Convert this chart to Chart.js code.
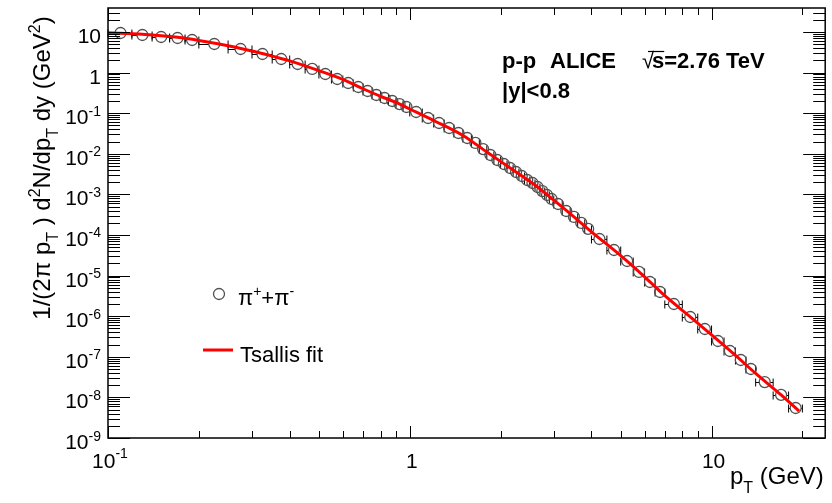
<!DOCTYPE html>
<html>
<head>
<meta charset="utf-8">
<script src="https://cdn.jsdelivr.net/npm/chart.js@4.4.0/dist/chart.umd.min.js"></script>
<style>
  html, body { margin: 0; padding: 0; background: #fff; }
</style>
</head>
<body>
<canvas id="myChart" width="832" height="503"></canvas>
<script>
// pi+ + pi- spectrum, p-p ALICE at 2.76 TeV, |y|<0.8
const ptEdges = [0.1, 0.12, 0.14, 0.16, 0.18, 0.2, 0.25, 0.3, 0.35, 0.4, 0.45, 0.5, 0.55, 0.6, 0.65, 0.7,
  0.75, 0.8, 0.85, 0.9, 0.95, 1.0, 1.1, 1.2, 1.3, 1.4, 1.5, 1.6, 1.7, 1.8, 1.9, 2.0, 2.1, 2.2, 2.3, 2.4,
  2.5, 2.6, 2.7, 2.8, 2.9, 3.0, 3.2, 3.4, 3.6, 3.8, 4.0, 4.5, 5.0, 5.5, 6.0, 6.5, 7.0, 8, 9, 10, 11, 12,
  13, 14, 16, 18, 20];
const ptCenter = [0.11, 0.13, 0.15, 0.17, 0.19, 0.225, 0.275, 0.325, 0.375, 0.425, 0.475, 0.525, 0.575,
  0.625, 0.675, 0.725, 0.775, 0.825, 0.875, 0.925, 0.975, 1.05, 1.15, 1.25, 1.35, 1.45, 1.55, 1.65, 1.75,
  1.85, 1.95, 2.05, 2.15, 2.25, 2.35, 2.45, 2.55, 2.65, 2.75, 2.85, 2.95, 3.1, 3.3, 3.5, 3.7, 3.9, 4.25,
  4.75, 5.25, 5.75, 6.25, 6.75, 7.5, 8.5, 9.5, 10.5, 11.5, 12.5, 13.5, 15, 17, 19];
const pionYield = [9.45, 8.44, 7.53, 7.12, 6.35, 5.06, 3.81, 2.87, 2.16, 1.63, 1.23, 0.924, 0.696, 0.554,
  0.442, 0.352, 0.281, 0.237, 0.200, 0.168, 0.142, 0.107, 0.0762, 0.0574, 0.0432, 0.0325, 0.0245, 0.0185,
  0.0131, 0.00934, 0.00704, 0.00561, 0.00447, 0.00356, 0.00284, 0.00226, 0.00191, 0.00152, 0.00121,
  0.000966, 0.000770, 0.000580, 0.000390, 0.000278, 0.000198, 0.000141, 7.97e-5, 4.27e-5, 2.29e-5,
  1.23e-5, 6.96e-6, 3.95e-6, 2.00e-6, 9.55e-7, 4.84e-7, 2.45e-7, 1.39e-7, 8.34e-8, 5.01e-8, 2.39e-8,
  1.15e-8, 5.48e-9];

// Tsallis fit curve
const fitPt = [0.1, 0.13, 0.17, 0.2, 0.25, 0.3, 0.35, 0.4, 0.5, 0.6, 0.7, 0.8, 0.9, 1.0, 1.2, 1.5, 1.8,
  2.2, 2.6, 3.0, 3.5, 4.0, 5.0, 6.0, 7.0, 8.5, 10, 12, 14, 17, 19.5];
const fitVal = [9.6, 8.8, 7.4, 6.2, 4.6, 3.4, 2.55, 1.95, 1.12, 0.68, 0.40, 0.26, 0.185, 0.127, 0.066,
  0.0283, 0.0111, 0.0040, 0.0017, 0.00072, 0.00028, 0.00012, 3.1e-5, 9.3e-6, 3.2e-6, 9.6e-7, 3.45e-7,
  1.08e-7, 3.9e-8, 1.15e-8, 4.6e-9];

// tick labels (decade exponents)
const xDecades = [-1, 0, 1];
const yDecades = [-9, -8, -7, -6, -5, -4, -3, -2, -1, 0, 1];

const FONT = "'Liberation Sans', Arial, sans-serif";
const markerR = 5.5;

// draw text made of pieces: [text, size, dy, weight]
function richWidth(ctx, parts) {
  let w = 0;
  parts.forEach(p => {
    ctx.font = (p[3] || "normal") + " " + p[1] + "px " + FONT;
    w += ctx.measureText(p[0]).width;
  });
  return w;
}
function drawRich(ctx, parts, x, y, align) {
  const w = richWidth(ctx, parts);
  let cx = x;
  if (align === "center") cx = x - w / 2;
  if (align === "right") cx = x - w;
  ctx.textAlign = "left";
  ctx.textBaseline = "alphabetic";
  parts.forEach(p => {
    ctx.font = (p[3] || "normal") + " " + p[1] + "px " + FONT;
    ctx.fillText(p[0], cx, y + p[2]);
    cx += ctx.measureText(p[0]).width;
  });
}

function seg(ctx, x1, y1, x2, y2) {
  ctx.beginPath();
  ctx.moveTo(x1, y1);
  ctx.lineTo(x2, y2);
  ctx.stroke();
}

const rootStyle = {
  id: "rootStyle",
  beforeDatasetsDraw(chart) {
    const { ctx, scales: { x, y } } = chart;
    // horizontal (bin width) error bars
    ctx.save();
    ctx.strokeStyle = "#000";
    ctx.lineWidth = 1;
    for (let i = 0; i < ptCenter.length; i++) {
      const px = x.getPixelForValue(ptCenter[i]);
      const py = Math.round(y.getPixelForValue(pionYield[i])) + 0.5;
      const xl = x.getPixelForValue(ptEdges[i]);
      const xr = x.getPixelForValue(ptEdges[i + 1]);
      if (px - xl > markerR) seg(ctx, xl, py, px - markerR, py);
      if (xr - px > markerR) seg(ctx, px + markerR, py, xr, py);
      seg(ctx, xl, py - 4, xl, py + 4);
      seg(ctx, xr, py - 4, xr, py + 4);
    }
    ctx.restore();
  },
  afterDraw(chart) {
    const { ctx, chartArea: a, scales: { x, y } } = chart;
    ctx.save();
    ctx.strokeStyle = "#000";
    ctx.fillStyle = "#000";
    ctx.lineWidth = 1;

    // y ticks, left and right
    yDecades.forEach(d => {
      for (let k = 1; k <= 9; k++) {
        const v = k * Math.pow(10, d);
        if (v > y.max) break;
        const py = Math.round(y.getPixelForValue(v)) + 0.5;
        const len = k === 1 ? 22 : 12;
        seg(ctx, a.left, py, a.left + len, py);
        seg(ctx, a.right, py, a.right - len, py);
      }
    });
    // x ticks, bottom and top
    xDecades.forEach(d => {
      for (let k = 1; k <= 9; k++) {
        const v = k * Math.pow(10, d);
        if (v > x.max) break;
        const px = Math.round(x.getPixelForValue(v)) + 0.5;
        const len = k === 1 ? 12 : 7;
        seg(ctx, px, a.bottom, px, a.bottom - len);
        seg(ctx, px, a.top, px, a.top + len);
      }
    });

    // frame
    ctx.lineWidth = 1.5;
    ctx.strokeRect(a.left, a.top, a.right - a.left, a.bottom - a.top);

    // y tick labels
    yDecades.forEach(d => {
      const py = y.getPixelForValue(Math.pow(10, d));
      let parts;
      if (d === 0) parts = [["1", 21, 0]];
      else if (d === 1) parts = [["10", 21, 0]];
      else parts = [["10", 21, 0], [String(d), 14, -8.5]];
      drawRich(ctx, parts, 101, py + 11, "right");
    });
    // x tick labels
    xDecades.forEach(d => {
      const px = x.getPixelForValue(Math.pow(10, d));
      let parts;
      if (d === 0) parts = [["1", 21, 0]];
      else if (d === 1) parts = [["10", 21, 0]];
      else parts = [["10", 21, 0], [String(d), 14, -10]];
      drawRich(ctx, parts, px + 2, 468, "center");
    });

    // x axis title
    drawRich(ctx, [["p", 24, 0], ["T", 16, 9], [" (GeV)", 24, 0]], 730, 484, "left");

    // y axis title, rotated
    const yTitle = [["1/(2\u03c0 p", 24, 0], ["T", 16, 8], [" ) d", 24, 0], ["2", 16, -10],
      ["N/dp", 24, 0], ["T", 16, 8], [" dy (GeV", 24, 0], ["2", 16, -10], [")", 24, 0]];
    ctx.save();
    ctx.translate(50, 168);
    ctx.rotate(-Math.PI / 2);
    drawRich(ctx, yTitle, 0, 0, "center");
    ctx.restore();

    // header text
    drawRich(ctx, [["p-p", 22, 0, "bold"]], 502, 68, "left");
    drawRich(ctx, [["ALICE", 22, 0, "bold"]], 550, 68, "left");
    drawRich(ctx, [["\u221a", 22, 0]], 642, 68, "left");
    drawRich(ctx, [["s=2.76 TeV", 22, 0, "bold"]], 652, 68, "left");
    ctx.font = "bold 22px " + FONT;
    const sw = ctx.measureText("s").width;
    ctx.lineWidth = 1.2;
    seg(ctx, 648, 51.5, 652 + sw, 51.5);
    drawRich(ctx, [["|y|<0.8", 22, 0, "bold"]], 502, 98, "left");

    // legend
    ctx.strokeStyle = "#505050";
    ctx.lineWidth = 1.3;
    ctx.beginPath();
    ctx.arc(219, 294, markerR, 0, Math.PI * 2);
    ctx.stroke();
    drawRich(ctx, [["\u03c0", 22, 0], ["+", 14, -9], ["+\u03c0", 22, 0], ["-", 14, -9]], 238, 305, "left");
    ctx.strokeStyle = "#ff0000";
    ctx.lineWidth = 3;
    seg(ctx, 203, 350, 233, 350);
    drawRich(ctx, [["Tsallis fit", 22, 0]], 240, 362, "left");
    ctx.restore();
  }
};

const ctx = document.getElementById("myChart").getContext("2d");
const chart = new Chart(ctx, {
  type: "scatter",
  data: {
    datasets: [
      {
        type: "line",
        label: "Tsallis fit",
        data: fitPt.map((p, i) => ({ x: p, y: fitVal[i] })),
        borderColor: "#ff0000",
        borderWidth: 3,
        pointRadius: 0,
        cubicInterpolationMode: "monotone",
        fill: false
      },
      {
        label: "\u03c0+ + \u03c0-",
        data: ptCenter.map((p, i) => ({ x: p, y: pionYield[i] })),
        pointStyle: "circle",
        pointRadius: markerR,
        borderColor: "#505050",
        borderWidth: 1.3,
        backgroundColor: "rgba(0,0,0,0)",
        showLine: false
      }
    ]
  },
  options: {
    responsive: false,
    animation: false,
    devicePixelRatio: 1,
    layout: { padding: { left: 108, right: 4, top: 8, bottom: 65 } },
    plugins: { legend: { display: false }, tooltip: { enabled: false } },
    scales: {
      x: { type: "logarithmic", min: 0.1, max: 23.8, display: false },
      y: { type: "logarithmic", min: 1e-9, max: 39, display: false }
    }
  },
  plugins: [rootStyle]
});
</script>
</body>
</html>
